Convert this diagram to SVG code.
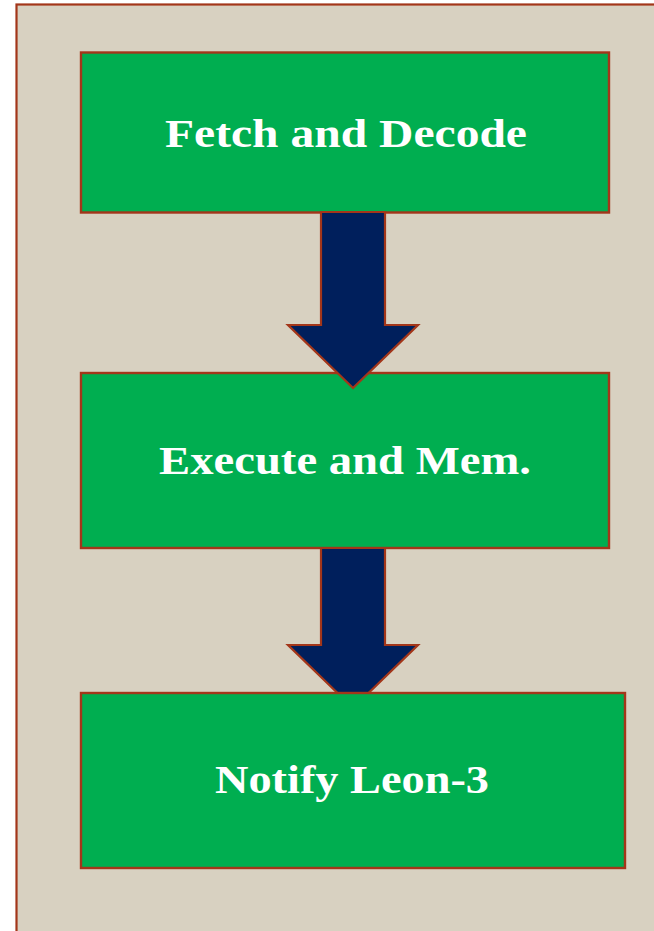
<svg xmlns="http://www.w3.org/2000/svg" width="654" height="931" viewBox="0 0 654 931">
  <style>
    .frame { fill: #d8d1c1; stroke: #a3361a; stroke-width: 2.2; }
    .stage { fill: #00ae50; stroke: #a3361a; stroke-width: 2.4; }
    .flow { fill: #001f5c; stroke: #a3361a; stroke-width: 2.2; stroke-linejoin: miter; }
    .label { font-family: "Liberation Serif", "Times New Roman", serif; font-weight: bold; font-size: 39px; fill: #ffffff; }
  </style>
  <rect class="frame" x="16.5" y="4.5" width="660" height="950"/>

  <g id="fetch">
    <rect class="stage" x="81" y="52.5" width="528" height="160"/>
    <text class="label" x="165" y="147" textLength="362" lengthAdjust="spacingAndGlyphs">Fetch and Decode</text>
  </g>

  <g id="execute">
    <rect class="stage" x="81" y="373" width="528" height="175"/>
    <text class="label" x="159" y="474" textLength="372" lengthAdjust="spacingAndGlyphs">Execute and Mem.</text>
  </g>

  <g id="connectors">
    <!-- block arrows: shaft + head, pointing down -->
    <polygon class="flow" points="321,212 385,212 385,325 418,325 353,388 288,325 321,325"/>
    <polygon class="flow" points="321,548 385,548 385,645 418,645 353,708 288,645 321,645"/>
  </g>

  <!-- drawn after the connectors so the second arrow tip tucks under it -->
  <g id="notify">
    <rect class="stage" x="81" y="693" width="544" height="175"/>
    <text class="label" x="215" y="793" textLength="274" lengthAdjust="spacingAndGlyphs">Notify Leon-3</text>
  </g>
</svg>
